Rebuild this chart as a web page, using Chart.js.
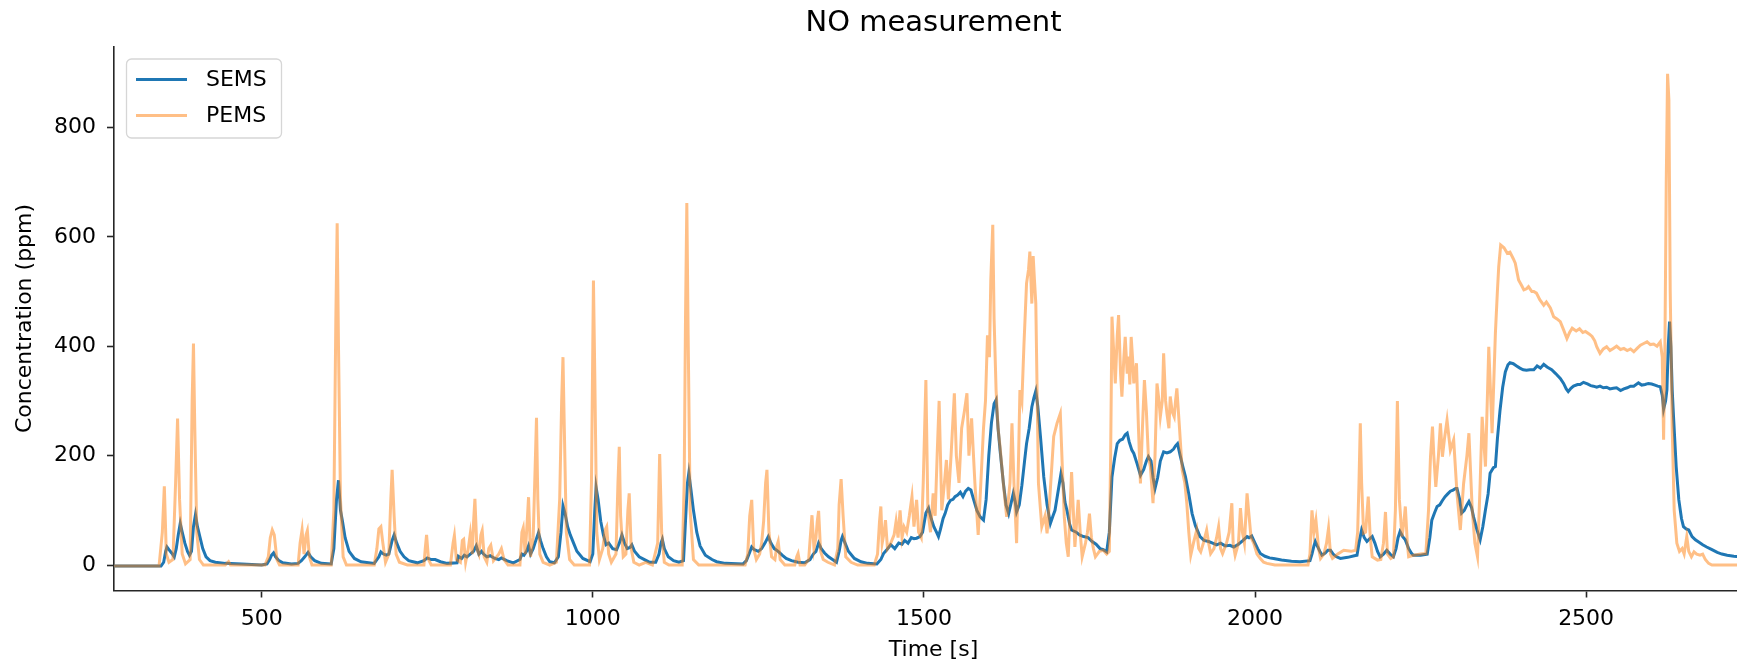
<!DOCTYPE html>
<html>
<head>
<meta charset="utf-8">
<title>NO measurement</title>
<script src="https://cdn.jsdelivr.net/npm/chart.js@4.4.1/dist/chart.umd.min.js"></script>
<style>
  html, body { margin: 0; padding: 0; background: #fff; overflow: hidden; }
  canvas { display: block; }
</style>
</head>
<body>
<!-- the axes run a little past the right window edge, as in the cropped original -->
<canvas id="noChart" width="1753" height="667"></canvas>
<script>
// time axis [s] and NO concentration [ppm]
const semsTime = [277,348,352,355,357,360,364,368,371,374,377,380,384,388,391,394,397,400,403,407,411,416,422,430,445,470,500,508,512,515,518,521,526,532,545,555,560,565,570,574,580,590,605,609,613,616,619,622,626,632,640,650,670,677,680,684,688,692,697,700,704,709,715,722,735,745,750,756,762,770,780,795,797,802,806,810,815,820,824,828,832,835,840,845,852,858,862,870,880,890,893,896,900,903,906,910,914,918,921,925,930,935,942,948,952,955,958,962,966,971,976,985,996,1000,1003,1005,1008,1012,1016,1020,1024,1030,1036,1040,1044,1048,1052,1056,1059,1063,1070,1078,1086,1095,1100,1103,1105,1108,1114,1122,1130,1137,1140,1143,1145,1148,1152,1157,1162,1170,1180,1187,1200,1227,1232,1236,1240,1244,1250,1255,1260,1265,1269,1274,1280,1286,1292,1300,1310,1320,1328,1333,1337,1341,1345,1350,1356,1362,1368,1372,1375,1377,1381,1386,1395,1405,1415,1429,1435,1439,1444,1450,1456,1462,1467,1471,1476,1481,1485,1489,1494,1498,1503,1507,1511,1515,1519,1522,1525,1529,1532,1536,1540,1544,1547,1551,1555,1559,1563,1567,1571,1575,1580,1585,1590,1594,1598,1602,1606,1609,1612,1615,1620,1624,1628,1632,1635,1638,1640,1644,1648,1652,1655,1659,1663,1666,1669,1672,1676,1681,1686,1691,1695,1698,1702,1707,1710,1713,1716,1720,1723,1730,1735,1741,1748,1754,1760,1766,1771,1776,1780,1784,1788,1792,1796,1800,1804,1807,1810,1814,1817,1822,1827,1832,1836,1839,1843,1846,1849,1853,1857,1862,1867,1872,1877,1880,1883,1887,1891,1895,1900,1905,1910,1917,1923,1930,1936,1942,1948,1955,1962,1968,1975,1982,1988,1991,1995,2000,2004,2008,2015,2022,2028,2040,2055,2068,2083,2086,2089,2091,2094,2098,2101,2106,2110,2114,2118,2123,2129,2140,2150,2154,2157,2161,2165,2169,2173,2177,2181,2185,2189,2194,2199,2204,2209,2213,2216,2219,2223,2227,2232,2236,2239,2250,2260,2264,2267,2271,2275,2279,2283,2287,2291,2295,2299,2303,2305,2309,2312,2316,2320,2323,2327,2330,2335,2340,2344,2348,2352,2355,2360,2363,2366,2370,2374,2378,2382,2385,2390,2395,2400,2405,2410,2415,2421,2426,2431,2436,2441,2448,2454,2461,2466,2470,2473,2477,2481,2487,2491,2496,2502,2507,2511,2516,2521,2526,2531,2536,2541,2546,2552,2557,2562,2567,2572,2579,2584,2589,2594,2599,2604,2608,2612,2615,2617,2620,2622,2624,2626,2628,2630,2632,2636,2640,2644,2647,2651,2655,2660,2665,2670,2676,2682,2690,2698,2705,2713,2723,2740,2752];
const semsValues = [-2,-2,5,25,33,28,22,15,30,55,76,60,40,25,18,25,70,92,70,50,30,15,8,5,3,2,0,2,10,18,22,15,8,4,2,3,8,15,23,15,8,3,2,30,120,155,100,80,50,25,12,6,3,15,24,20,18,20,45,55,40,25,15,8,4,8,13,10,10,6,3,4,16,12,18,15,20,25,35,20,25,20,15,17,12,10,13,8,4,10,20,18,25,35,20,30,45,59,45,30,15,6,4,15,60,108,95,70,55,40,25,12,6,20,100,142,120,80,55,37,40,30,28,40,55,40,30,32,37,25,15,10,5,5,20,40,47,30,15,8,5,8,80,150,168,140,100,60,35,18,10,6,3,2,8,20,33,28,25,30,40,52,40,30,25,18,12,8,5,4,10,20,25,40,30,22,15,10,5,25,45,52,40,25,12,6,3,2,10,21,28,37,30,40,38,45,40,50,48,49,52,60,95,104,85,70,60,52,65,85,94,110,118,120,125,128,133,125,135,140,137,120,100,88,82,120,200,260,295,302,250,210,150,110,94,115,131,115,97,110,146,190,222,250,289,305,318,290,235,161,110,76,90,100,130,167,150,115,100,75,64,60,55,52,50,43,38,30,28,24,60,161,195,222,228,230,238,241,225,210,204,185,164,175,190,198,190,160,140,160,190,207,205,207,212,218,222,200,180,161,130,94,72,52,45,43,40,37,40,35,36,33,38,45,52,50,53,40,30,21,16,13,12,9,7,6,8,20,35,43,35,25,18,22,27,27,20,15,12,14,17,18,40,64,50,43,48,52,40,25,15,20,27,20,15,30,50,61,52,46,30,22,18,18,20,50,82,95,107,110,118,125,130,135,137,140,140,120,95,100,110,116,105,88,65,46,70,101,130,168,178,180,230,283,325,353,366,370,368,364,360,357,356,357,357,364,360,367,362,357,350,341,332,322,317,323,327,330,330,334,331,328,327,325,327,324,325,322,323,324,319,322,324,327,327,333,329,330,332,331,329,327,326,310,285,300,320,400,445,400,320,271,180,119,85,70,66,64,52,46,42,37,33,28,23,20,18,16,14,13];

const pemsTime = [277,345,350,353,356,360,366,370,373,376,380,385,392,395,397,399,402,406,412,445,450,453,505,510,513,516,519,523,527,555,558,561,564,567,569,572,576,605,609,612,614,616,619,623,628,670,674,677,680,683,687,692,695,697,700,703,708,720,745,747,749,752,756,785,789,791,794,800,803,805,808,812,815,818,820,822,825,828,831,833,836,840,843,846,850,858,862,866,872,890,893,895,898,901,903,906,910,913,915,917,920,925,935,945,950,953,955,957,960,965,972,995,998,1000,1001,1003,1006,1010,1015,1019,1021,1024,1028,1035,1038,1040,1042,1046,1050,1053,1055,1058,1062,1070,1080,1090,1098,1101,1104,1108,1115,1135,1138,1140,1142,1144,1147,1152,1160,1230,1234,1237,1240,1243,1247,1252,1255,1258,1261,1263,1266,1270,1275,1278,1280,1283,1290,1305,1308,1310,1313,1320,1326,1329,1331,1334,1337,1339,1341,1344,1348,1355,1365,1370,1372,1375,1378,1382,1390,1400,1425,1430,1433,1435,1437,1440,1442,1445,1450,1455,1458,1461,1464,1467,1470,1474,1478,1482,1485,1489,1492,1496,1499,1503,1506,1510,1514,1517,1520,1523,1527,1531,1534,1537,1541,1546,1549,1553,1557,1561,1565,1568,1572,1577,1582,1586,1590,1593,1596,1599,1601,1604,1606,1609,1612,1615,1620,1625,1630,1633,1636,1640,1643,1645,1648,1651,1655,1658,1660,1663,1665,1667,1669,1673,1678,1683,1686,1690,1696,1701,1706,1709,1712,1715,1718,1720,1723,1726,1728,1733,1736,1739,1744,1747,1750,1753,1756,1759,1765,1771,1776,1780,1782,1784,1787,1789,1792,1794,1797,1799,1802,1804,1807,1809,1811,1813,1815,1817,1819,1821,1824,1827,1830,1833,1836,1839,1842,1846,1849,1852,1855,1857,1860,1862,1865,1867,1870,1872,1875,1878,1880,1882,1886,1890,1894,1897,1900,1903,1907,1912,1915,1918,1922,1927,1930,1933,1938,1942,1945,1948,1951,1957,1961,1965,1967,1970,1975,1978,1981,1984,1988,1991,1994,1998,2003,2008,2013,2018,2030,2080,2083,2086,2089,2092,2096,2099,2104,2108,2111,2114,2117,2125,2134,2145,2152,2155,2157,2159,2161,2164,2167,2171,2174,2177,2185,2190,2194,2197,2200,2205,2209,2212,2215,2218,2222,2225,2227,2230,2232,2240,2250,2258,2262,2265,2268,2270,2273,2277,2280,2283,2286,2290,2295,2300,2305,2310,2315,2320,2323,2328,2332,2336,2340,2343,2348,2353,2358,2363,2366,2368,2371,2376,2381,2385,2390,2393,2398,2403,2406,2410,2413,2418,2421,2425,2430,2436,2440,2446,2451,2456,2461,2466,2471,2475,2479,2485,2490,2495,2499,2505,2509,2513,2516,2521,2526,2531,2536,2541,2546,2552,2557,2562,2567,2572,2577,2582,2587,2592,2597,2602,2607,2612,2615,2617,2619,2621,2623,2625,2627,2630,2633,2637,2641,2645,2648,2652,2655,2659,2663,2667,2672,2676,2680,2685,2690,2752];
const pemsValues = [-2,-2,60,144,20,5,10,150,268,120,20,2,10,300,405,250,60,10,0,0,6,0,0,15,50,64,55,10,0,0,40,64,20,55,63,15,0,0,100,450,625,400,120,15,0,0,30,66,70,40,5,20,120,174,90,20,5,0,0,30,55,10,0,0,40,54,10,5,45,47,5,30,57,20,80,121,30,20,55,63,15,5,30,36,8,20,30,10,0,0,60,68,20,80,124,15,50,180,269,120,20,5,0,5,120,300,380,250,60,10,0,0,150,400,520,350,60,10,30,65,70,20,5,20,150,216,90,15,20,100,131,30,5,0,5,0,40,203,60,5,0,0,150,450,662,420,100,10,0,0,20,90,119,30,10,20,40,80,150,174,60,15,10,35,43,10,0,0,15,21,0,0,10,60,91,30,50,80,99,25,10,5,0,30,110,157,90,15,5,0,0,20,80,107,40,60,82,30,40,55,80,50,100,50,70,60,90,125,70,119,60,50,150,338,100,60,131,90,200,300,100,150,192,120,200,314,200,150,250,280,314,200,268,150,55,150,250,300,420,380,520,622,450,320,250,216,149,88,150,259,150,40,200,320,300,400,515,540,573,478,565,520,478,149,70,90,58,120,235,259,277,180,88,40,15,80,170,90,33,119,60,15,40,60,94,50,30,15,25,27,20,25,200,454,380,332,420,457,350,308,380,417,350,381,330,417,380,332,350,369,250,149,250,338,280,198,180,113,200,332,300,271,300,387,300,277,250,308,280,271,300,323,250,174,150,113,60,18,40,64,30,24,40,64,40,21,30,50,70,30,21,40,60,113,40,18,40,104,60,40,131,90,50,40,20,12,5,3,0,0,20,100,60,82,30,12,20,40,67,20,12,20,27,25,27,60,150,259,150,58,60,125,50,15,9,10,40,97,20,12,15,100,300,120,52,80,107,40,15,18,20,21,100,198,253,200,143,200,259,198,230,265,210,229,131,64,149,200,241,101,40,15,150,271,180,399,241,424,500,545,585,580,570,572,560,552,521,510,503,505,509,500,500,497,485,475,481,470,454,450,445,430,414,425,433,428,432,425,427,422,418,410,399,387,395,399,392,396,400,394,396,392,395,390,396,402,405,408,403,404,400,408,380,229,400,700,898,850,500,250,100,40,25,30,20,52,25,15,24,20,18,20,10,3,0,0];

const seriesLabels = ['SEMS', 'PEMS'];
const seriesColors = ['#1f77b4', 'rgba(255,127,14,0.5)'];
const xTicks = [500, 1000, 1500, 2000, 2500];
const yTicks = [0, 200, 400, 600, 800];

const axisColor = '#262626';
const fontFamily = "'DejaVu Sans', sans-serif";

function toPoints(xs, ys) {
    return xs.map((x, i) => ({ x: x, y: ys[i] }));
}

// matplotlib-like legend drawn inside the axes (upper left)
const insideLegend = {
    id: 'insideLegend',
    afterDraw(chart) {
        const ctx = chart.ctx;
        const area = chart.chartArea;
        const x0 = area.left + 12.5;
        const y0 = area.top + 12.5;
        const w = 155, h = 79, r = 5;
        ctx.save();
        ctx.beginPath();
        ctx.moveTo(x0 + r, y0);
        ctx.arcTo(x0 + w, y0, x0 + w, y0 + h, r);
        ctx.arcTo(x0 + w, y0 + h, x0, y0 + h, r);
        ctx.arcTo(x0, y0 + h, x0, y0, r);
        ctx.arcTo(x0, y0, x0 + w, y0, r);
        ctx.closePath();
        ctx.fillStyle = 'rgba(255,255,255,0.8)';
        ctx.fill();
        ctx.strokeStyle = '#d6d6d6';
        ctx.lineWidth = 1.3;
        ctx.stroke();

        ctx.font = '22px ' + fontFamily;
        ctx.textBaseline = 'middle';
        ctx.textAlign = 'left';
        seriesLabels.forEach((label, i) => {
            const ly = y0 + 20.5 + i * 36;
            ctx.beginPath();
            ctx.moveTo(x0 + 9.5, ly);
            ctx.lineTo(x0 + 60.5, ly);
            ctx.strokeStyle = seriesColors[i];
            ctx.lineWidth = 3;
            ctx.stroke();
            ctx.fillStyle = '#000';
            ctx.fillText(label, x0 + 79.5, ly + 1);
        });
        ctx.restore();
    }
};

new Chart(document.getElementById('noChart'), {
    type: 'line',
    data: {
        datasets: [{
            label: seriesLabels[0],
            data: toPoints(semsTime, semsValues),
            borderColor: seriesColors[0],
            borderWidth: 3,
            pointRadius: 0,
            tension: 0,
            order: 1
        }, {
            label: seriesLabels[1],
            data: toPoints(pemsTime, pemsValues),
            borderColor: seriesColors[1],
            borderWidth: 3,
            pointRadius: 0,
            tension: 0,
            order: 0
        }]
    },
    options: {
        responsive: false,
        animation: false,
        events: [],
        layout: { padding: 0 },
        plugins: {
            legend: { display: false },
            tooltip: { enabled: false },
            title: {
                display: true,
                text: 'NO measurement',
                fullSize: false,
                color: '#000',
                font: { family: fontFamily, size: 29, weight: 'normal' },
                padding: { top: 6, bottom: 5.7 }
            }
        },
        scales: {
            x: {
                type: 'linear',
                min: 277,
                max: 2752,
                afterBuildTicks: s => { s.ticks = xTicks.map(v => ({ value: v })); },
                afterFit: s => { s.height = 76.5; },
                border: { display: true, color: axisColor, width: 1.6 },
                grid: { display: true, drawOnChartArea: false, drawTicks: true, tickLength: 7, tickWidth: 1.6, tickColor: axisColor },
                ticks: {
                    autoSkip: false,
                    maxRotation: 0,
                    padding: 9,
                    color: '#000',
                    font: { family: fontFamily, size: 22 },
                    callback: v => String(v)
                },
                title: {
                    display: true,
                    text: 'Time [s]',
                    color: '#000',
                    font: { family: fontFamily, size: 22 },
                    padding: { top: 0, bottom: 4 }
                }
            },
            y: {
                type: 'linear',
                min: -46.6,
                max: 948,
                afterBuildTicks: s => { s.ticks = yTicks.map(v => ({ value: v })); },
                afterFit: s => { s.width = 114; },
                border: { display: true, color: axisColor, width: 1.6 },
                grid: { display: true, drawOnChartArea: false, drawTicks: true, tickLength: 7, tickWidth: 1.6, tickColor: axisColor },
                ticks: {
                    padding: 11,
                    color: '#000',
                    font: { family: fontFamily, size: 22 },
                    callback: v => String(v)
                },
                title: {
                    display: true,
                    text: 'Concentration (ppm)',
                    color: '#000',
                    font: { family: fontFamily, size: 22 },
                    padding: { top: 12, bottom: 0 }
                }
            }
        }
    },
    plugins: [insideLegend]
});
</script>
</body>
</html>
